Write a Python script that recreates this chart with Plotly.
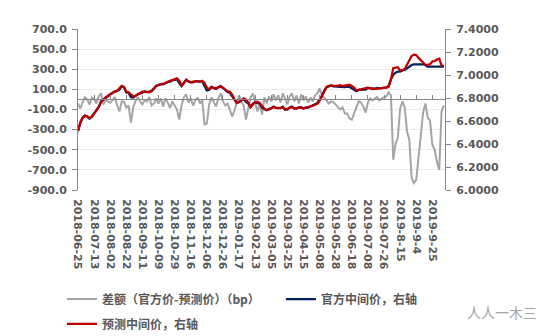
import plotly.graph_objects as go

# Trading-day index of each sample (every second trading day)
day = list(range(0, 320, 2))

# 官方中间价 (CNY per USD)
official = [
    6.511, 6.581, 6.627, 6.647, 6.640, 6.620, 6.637, 6.666, 6.691, 6.723,
    6.771, 6.785, 6.804, 6.818, 6.832, 6.844, 6.858, 6.859, 6.873, 6.903,
    6.893, 6.847, 6.844, 6.807, 6.804, 6.819, 6.833, 6.838, 6.850, 6.856,
    6.851, 6.853, 6.859, 6.881, 6.906, 6.911, 6.921, 6.918, 6.931, 6.939,
    6.942, 6.954, 6.957, 6.961, 6.930, 6.904, 6.930, 6.960, 6.942, 6.936,
    6.936, 6.945, 6.947, 6.940, 6.947, 6.905, 6.866, 6.870, 6.897, 6.885,
    6.878, 6.894, 6.904, 6.888, 6.866, 6.853, 6.845, 6.813, 6.779, 6.757,
    6.767, 6.778, 6.791, 6.765, 6.752, 6.722, 6.751, 6.762, 6.756, 6.751,
    6.715, 6.707, 6.693, 6.703, 6.710, 6.725, 6.714, 6.714, 6.712, 6.724,
    6.700, 6.700, 6.718, 6.726, 6.708, 6.712, 6.714, 6.720, 6.709, 6.718,
    6.717, 6.726, 6.730, 6.746, 6.756, 6.786, 6.819, 6.862, 6.894, 6.901,
    6.908, 6.902, 6.900, 6.900, 6.902, 6.895, 6.894, 6.898, 6.896, 6.885,
    6.876, 6.860, 6.870, 6.873, 6.875, 6.873, 6.887, 6.885, 6.877, 6.881,
    6.887, 6.883, 6.886, 6.888, 6.893, 6.904, 6.964, 7.000, 7.020, 7.030,
    7.030, 7.040, 7.045, 7.058, 7.075, 7.087, 7.093, 7.093, 7.093, 7.093,
    7.093, 7.085, 7.072, 7.072, 7.072, 7.072, 7.072, 7.072, 7.072, 7.072,
]

# 预测中间价 (CNY per USD)
forecast = [
    6.515, 6.590, 6.630, 6.645, 6.640, 6.625, 6.635, 6.665, 6.695, 6.720,
    6.765, 6.790, 6.805, 6.820, 6.835, 6.845, 6.855, 6.865, 6.885, 6.905,
    6.895, 6.855, 6.850, 6.830, 6.812, 6.820, 6.830, 6.840, 6.855, 6.856,
    6.853, 6.850, 6.865, 6.885, 6.905, 6.915, 6.920, 6.925, 6.930, 6.942,
    6.950, 6.956, 6.963, 6.971, 6.950, 6.910, 6.928, 6.955, 6.945, 6.935,
    6.942, 6.946, 6.945, 6.944, 6.948, 6.930, 6.890, 6.875, 6.895, 6.888,
    6.885, 6.893, 6.898, 6.890, 6.872, 6.857, 6.855, 6.830, 6.790, 6.760,
    6.763, 6.780, 6.797, 6.785, 6.760, 6.720, 6.745, 6.765, 6.768, 6.755,
    6.730, 6.705, 6.697, 6.700, 6.712, 6.720, 6.715, 6.710, 6.715, 6.718,
    6.700, 6.705, 6.715, 6.720, 6.710, 6.708, 6.718, 6.715, 6.710, 6.715,
    6.720, 6.724, 6.732, 6.742, 6.750, 6.775, 6.815, 6.860, 6.895, 6.905,
    6.910, 6.905, 6.905, 6.908, 6.912, 6.903, 6.908, 6.912, 6.915, 6.905,
    6.890, 6.866, 6.872, 6.876, 6.882, 6.886, 6.890, 6.884, 6.878, 6.880,
    6.884, 6.884, 6.885, 6.886, 6.890, 6.897, 6.960, 7.060, 7.064, 7.068,
    7.039, 7.042, 7.053, 7.090, 7.115, 7.165, 7.176, 7.173, 7.149, 7.131,
    7.106, 7.089, 7.090, 7.093, 7.117, 7.122, 7.134, 7.142, 7.084, 7.078,
]

# 差额（官方价-预测价），bp
spread_bp = [
    -40, -90, -30, 20, 0, -50, 20, 5, -40, 30,
    60, -50, -10, -20, -30, -10, 25, -60, -120, -20,
    -25, -80, -60, -230, -80, -15, 25, -20, -50, -5,
    -20, 25, -60, -40, 10, -40, 10, -70, 10, -30,
    -85, -20, -60, -100, -200, -60, 20, 50, -30, 10,
    -60, -10, 20, -40, -10, -250, -240, -50, 20, -30,
    -70, 10, 60, -20, -60, -40, -100, -170, -110, -30,
    40, -20, -60, -200, -80, 20, 60, -30, -120, -40,
    -150, 20, -40, 30, -20, 50, -10, 40, -30, 60,
    0, -50, 30, 60, -20, 40, -40, 50, -10, 30,
    -30, 20, -20, 40, 60, 110, 40, 20, -10, -40,
    -20, -30, -50, -80, -100, -80, -140, -140, -190, -200,
    -140, -60, -20, -30, -70, -130, -30, 10, -10, 10,
    25, -10, 10, 20, 30, 70, 40, -600, -440, -380,
    -90, -20, -80, -320, -400, -780, -830, -800, -560, -380,
    -130, -40, -180, -210, -450, -500, -620, -700, -120, -60,
]

tick_labels = [
    "2018-06-25", "2018-07-13", "2018-08-02", "2018-08-22", "2018-09-11",
    "2018-10-09", "2018-10-29", "2018-11-16", "2018-12-06", "2018-12-26",
    "2019-01-17", "2019-02-13", "2019-03-05", "2019-03-25", "2019-04-15",
    "2019-05-08", "2019-05-28", "2019-06-18", "2019-07-08", "2019-07-26",
    "2019-8-15", "2019-9-4", "2019-9-25",
]
tick_pos = [14 * k for k in range(len(tick_labels))]

left_ticks = [700, 500, 300, 100, -100, -300, -500, -700, -900]
left_text = ["700.0", "500.0", "300.0", "100.0", "-100.0",
             "-300.0", "-500.0", "-700.0", "-900.0"]

AXIS_FONT = dict(family="DejaVu Sans", size=11, color="#595959", weight="bold")
LEG_FONT = dict(family="Noto Sans CJK SC", size=12, color="#595959", weight="bold")
AXIS_LINE = "#868686"


def legend_box(x, y):
    return dict(
        orientation="h", xref="container", yref="container",
        x=x, y=y, xanchor="left", yanchor="middle",
        font=LEG_FONT, bgcolor="rgba(0,0,0,0)",
    )


fig = go.Figure()
fig.add_trace(go.Scatter(
    x=day, y=spread_bp, name="差额（官方价-预测价）（bp）",
    mode="lines", line=dict(color="#A5A5A5", width=2),
    xaxis="x", yaxis="y", legend="legend",
))
fig.add_trace(go.Scatter(
    x=day, y=official, name="官方中间价，右轴",
    mode="lines", line=dict(color="#002060", width=2.25),
    xaxis="x2", yaxis="y2", legend="legend3",
))
fig.add_trace(go.Scatter(
    x=day, y=forecast, name="预测中间价，右轴",
    mode="lines", line=dict(color="#C00000", width=2.25),
    xaxis="x2", yaxis="y2", legend="legend2",
))

fig.update_layout(
    width=553, height=336,
    margin=dict(l=78, r=108, t=29, b=146, autoexpand=False),
    paper_bgcolor="white", plot_bgcolor="white",
    showlegend=True,
    xaxis=dict(
        range=[0, 319], showline=False, showgrid=False, zeroline=False,
        tickmode="array", tickvals=tick_pos, ticktext=tick_labels,
        tickangle=90, tickfont=AXIS_FONT, ticks="",
        ticklabelstandoff=8, automargin=False,
    ),
    xaxis2=dict(
        range=[0, 319], overlaying="x", anchor="free", position=0.5625,
        showline=True, linecolor=AXIS_LINE, linewidth=1,
        showgrid=False, zeroline=False,
        tickmode="array", tickvals=tick_pos, ticks="inside", ticklen=4,
        tickcolor=AXIS_LINE, showticklabels=False,
    ),
    yaxis=dict(
        range=[-900, 700], tickmode="array", tickvals=left_ticks, ticktext=left_text,
        showline=True, linecolor=AXIS_LINE, linewidth=1,
        ticks="outside", ticklen=5, tickcolor=AXIS_LINE,
        showgrid=True, gridcolor="#EBEBEB", gridwidth=1, zeroline=False,
        tickfont=AXIS_FONT, ticklabelstandoff=3, automargin=False,
    ),
    yaxis2=dict(
        range=[6.0, 7.4], overlaying="y", side="right", anchor="x",
        tickmode="linear", tick0=6.0, dtick=0.2, tickformat=".4f",
        showline=True, linecolor=AXIS_LINE, linewidth=1,
        ticks="outside", ticklen=5, tickcolor=AXIS_LINE,
        showgrid=False, zeroline=False, tickfont=AXIS_FONT,
        ticklabelstandoff=3, automargin=False,
    ),
    legend=legend_box(0.112, 0.110),
    legend3=legend_box(0.508, 0.110),
    legend2=legend_box(0.112, 0.036),
    annotations=[dict(
        text="人人一木三", xref="paper", yref="paper", x=1.155, y=-0.758,
        xanchor="center", yanchor="middle", showarrow=False,
        font=dict(family="Noto Sans CJK SC", size=14, color="#A6A6A6"),
    )],
)

fig.write_html("out.html")
